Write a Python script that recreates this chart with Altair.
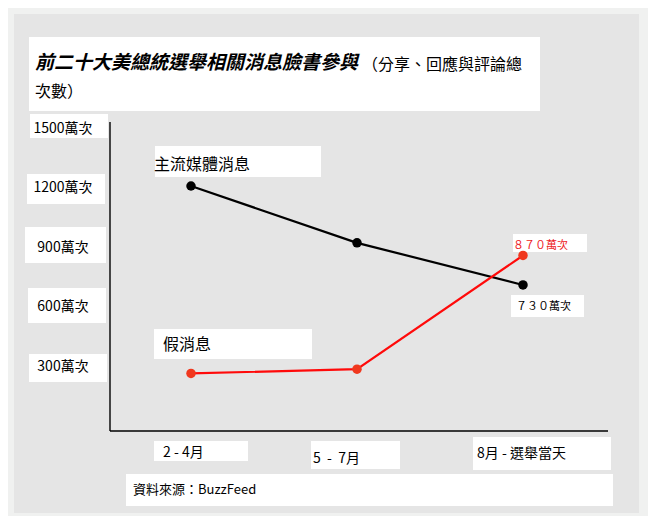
import altair as alt
import pandas as pd

FONT = "Noto Sans CJK TC"

# chart data
periods = ["2 - 4月", "5 - 7月", "8月 - 選舉當天"]
series_names = ["主流媒體消息", "假消息"]
mainstream = [1200, 930, 730]
fake = [310, 330, 870]
y_ticks = [300, 600, 900, 1200, 1500]

title_main = "前二十大美總統選舉相關消息臉書參與"
title_note = "（分享、回應與評論總"
title_note2 = "次數）"
source_text = "資料來源：BuzzFeed"


def fullwidth(n):
    return str(n).translate({ord(c): ord(c) + 0xFEE0 for c in "0123456789"})


df = pd.DataFrame({
    "period": periods * 2,
    "series": [series_names[0]] * 3 + [series_names[1]] * 3,
    "value": mainstream + fake,
})
ticks = pd.DataFrame({"v": y_ticks, "label": [f"{v}萬次" for v in y_ticks]})
one = pd.DataFrame({"k": [0]})

x_enc = alt.X("period:N", sort=periods, axis=None,
              scale=alt.Scale(type="point", domain=periods, range=[183, 515], padding=0))
y_enc = alt.Y("value:Q", axis=None, scale=alt.Scale(domain=[0, 1500], range=[430.7, 114.8]))


def box(x0, y0, x1, y1, color="white"):
    return alt.Chart(one).mark_rect(color=color).encode(
        x=alt.value(x0), x2=alt.value(x1), y=alt.value(y0), y2=alt.value(y1))


def note(text, x, y, size, color="black", weight="normal", style="normal"):
    return alt.Chart(one).mark_text(
        text=text, align="left", baseline="alphabetic", font=FONT, fontSize=size,
        color=color, fontWeight=weight, fontStyle=style,
    ).encode(x=alt.value(x), y=alt.value(y))


panel = box(6, 6, 631, 505, color="#e5e5e5")

# white label boxes (chart pixels)
boxes = [
    (21, 29, 532, 103),   # title
    (22, 106, 100, 130),  # 1500
    (19, 166, 97, 196),   # 1200
    (17, 219, 98, 255),   # 900
    (20, 280, 98, 315),   # 600
    (21, 346, 99, 374),   # 300
    (147, 138, 313, 169),
    (146, 321, 304, 351),
    (505, 226, 579, 244),
    (503, 287, 576, 309),
    (146, 433, 240, 453),
    (303, 433, 392, 461),
    (465, 429, 603, 462),
    (118, 466, 605, 498),
]
box_layers = [box(*b) for b in boxes]

axis_y = alt.Chart(one).mark_rule(color="black", strokeWidth=1.4).encode(
    x=alt.value(102), y=alt.value(114), y2=alt.value(423))
axis_x = alt.Chart(one).mark_rule(color="black", strokeWidth=1.4).encode(
    x=alt.value(102), x2=alt.value(600), y=alt.value(423))

lines = alt.Chart(df).mark_line(strokeWidth=2.2).encode(
    x=x_enc, y=y_enc,
    color=alt.Color("series:N", legend=None,
                    scale=alt.Scale(domain=series_names, range=["#000000", "#ff0a0a"])),
)
dots = alt.Chart(df).mark_circle(size=90, opacity=1).encode(
    x=x_enc, y=y_enc,
    fill=alt.Fill("series:N", legend=None,
                  scale=alt.Scale(domain=series_names, range=["#000000", "#f0381e"])),
)

tick_labels = alt.Chart(ticks).mark_text(
    align="center", baseline="middle", font=FONT, fontSize=14, color="black"
).encode(
    x=alt.value(55),
    y=alt.Y("v:Q", axis=None, scale=alt.Scale(domain=[300, 1500], range=[359, 120.5])),
    text="label:N",
)

texts = [
    note(title_main, 27, 61, 19, weight="bold", style="italic"),
    note(title_note, 354, 61.5, 16),
    note(title_note2, 27, 89, 16),
    note(series_names[0], 146, 162, 16),
    note(series_names[1], 155, 342, 16),
    note(fullwidth(fake[-1]) + "萬次", 505, 241, 11, color="#ee1c25"),
    note(fullwidth(mainstream[-1]) + "萬次", 508, 302, 11),
    note(periods[0], 155, 449, 14),
    note(periods[1].replace(" ", "\u00a0\u00a0"), 305, 455, 14),
    note(periods[2], 469, 450, 14),
    note(source_text, 125, 486, 13),
]

chart = alt.layer(
    panel, *box_layers, axis_y, axis_x, lines, dots, tick_labels, *texts
).resolve_scale(y="independent").properties(
    width=640, height=508, padding=0,
    autosize=alt.AutoSizeParams(type="none"),
    background="#f0f1f0",
).configure_view(stroke=None)

chart.save("out.html", embed_options={"renderer": "svg", "actions": False})
